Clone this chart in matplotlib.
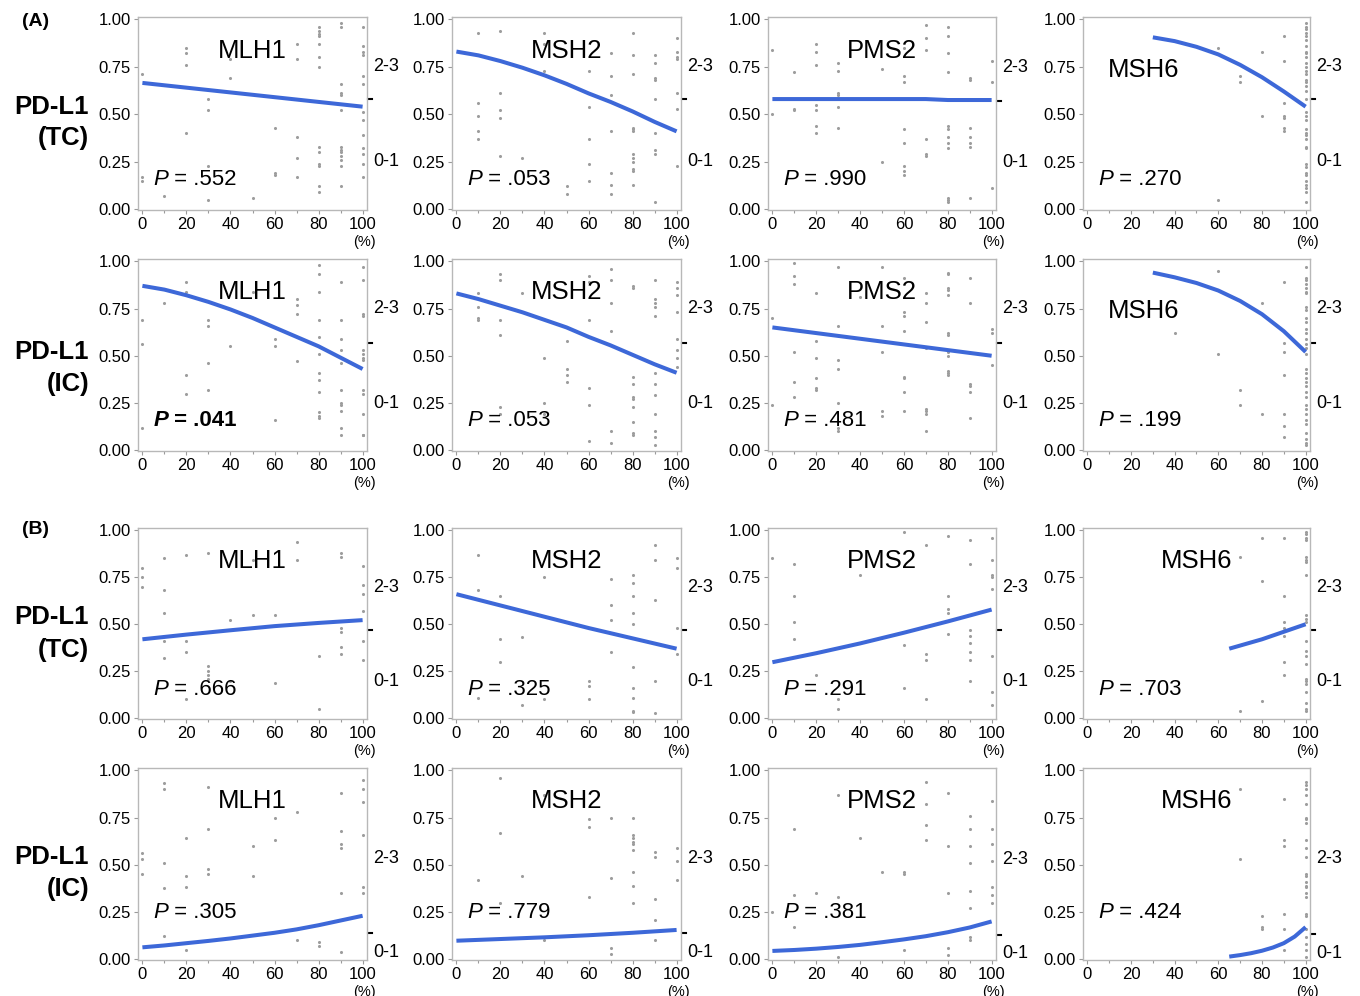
import matplotlib.pyplot as plt
import matplotlib.transforms as mtransforms

plt.rcParams['font.family'] = ['Liberation Sans', 'DejaVu Sans']

# ---- data: points grouped by x (% staining), y ----
# fits are (x, predicted probability)
A_TC_MLH1 = {0: [0.71, 0.17, 0.15], 10: [0.07], 20: [0.85, 0.82, 0.76, 0.40],
             30: [0.58, 0.52, 0.23, 0.05], 40: [0.79, 0.69], 50: [0.06],
             60: [0.43, 0.19, 0.18], 70: [0.87, 0.79, 0.38, 0.27, 0.17],
             80: [0.96, 0.94, 0.92, 0.91, 0.87, 0.80, 0.75, 0.33, 0.30, 0.24, 0.23, 0.12, 0.09],
             90: [0.98, 0.96, 0.66, 0.61, 0.60, 0.52, 0.33, 0.31, 0.30, 0.28, 0.26, 0.23, 0.12],
             100: [0.96, 0.86, 0.83, 0.81, 0.70, 0.66, 0.51, 0.47, 0.39, 0.32, 0.29, 0.24, 0.17]}
A_TC_MLH1_FIT = [(0, 0.665), (20, 0.64), (40, 0.615), (60, 0.59), (80, 0.565), (100, 0.54)]

A_TC_MSH2 = {10: [0.93, 0.56, 0.49, 0.41, 0.37], 20: [0.94, 0.61, 0.52, 0.48, 0.28],
             30: [0.27], 40: [0.93, 0.87, 0.73], 50: [0.12, 0.08],
             60: [0.73, 0.54, 0.37, 0.24, 0.15], 70: [0.82, 0.70, 0.60, 0.41, 0.19, 0.13, 0.08],
             80: [0.93, 0.81, 0.71, 0.43, 0.42, 0.41, 0.29, 0.27, 0.25, 0.21, 0.20, 0.13],
             90: [0.81, 0.77, 0.69, 0.68, 0.58, 0.40, 0.31, 0.29, 0.04],
             100: [0.90, 0.83, 0.80, 0.79, 0.61, 0.53, 0.23]}
A_TC_MSH2_FIT = [(0, 0.83), (10, 0.81), (20, 0.78), (30, 0.745), (40, 0.705), (50, 0.66),
                 (60, 0.61), (70, 0.565), (80, 0.515), (90, 0.46), (100, 0.41)]

A_TC_PMS2 = {0: [0.84, 0.50], 10: [0.72, 0.53, 0.52], 20: [0.87, 0.83, 0.76, 0.55, 0.52, 0.44, 0.40],
             30: [0.77, 0.73, 0.61, 0.60, 0.54, 0.43], 50: [0.74, 0.25],
             60: [0.85, 0.70, 0.67, 0.42, 0.35, 0.23, 0.20, 0.18],
             70: [0.97, 0.90, 0.84, 0.37, 0.29, 0.28],
             80: [0.96, 0.91, 0.82, 0.72, 0.44, 0.42, 0.38, 0.35, 0.32, 0.06, 0.05, 0.04],
             90: [0.69, 0.68, 0.43, 0.38, 0.35, 0.33, 0.06], 100: [0.78, 0.67, 0.11]}
A_TC_PMS2_FIT = [(0, 0.58), (70, 0.58), (80, 0.575), (100, 0.575)]

A_TC_MSH6 = {60: [0.85, 0.05], 70: [0.70, 0.67], 80: [0.83, 0.49],
             90: [0.91, 0.78, 0.56, 0.49, 0.48, 0.43, 0.41],
             100: [0.98, 0.96, 0.95, 0.93, 0.91, 0.89, 0.86, 0.83, 0.82, 0.80, 0.77, 0.75, 0.73,
                   0.71, 0.68, 0.67, 0.65, 0.62, 0.58, 0.51, 0.49, 0.47, 0.42, 0.40, 0.39, 0.37,
                   0.33, 0.32, 0.24, 0.22, 0.19, 0.18, 0.15, 0.13, 0.11, 0.09, 0.04]}
A_TC_MSH6_FIT = [(30, 0.905), (40, 0.885), (50, 0.855), (60, 0.815), (70, 0.76),
                 (80, 0.695), (90, 0.62), (100, 0.54)]

A_IC_MLH1 = {0: [0.69, 0.56, 0.12], 10: [0.78], 20: [0.89, 0.84, 0.40, 0.30],
             30: [0.69, 0.66, 0.46, 0.32], 40: [0.55], 50: [0.84], 60: [0.59, 0.55, 0.16],
             70: [0.80, 0.77, 0.72, 0.47],
             80: [0.98, 0.93, 0.84, 0.69, 0.60, 0.51, 0.41, 0.37, 0.31, 0.20, 0.18, 0.17],
             90: [0.89, 0.69, 0.59, 0.53, 0.46, 0.32, 0.25, 0.24, 0.21, 0.12, 0.08],
             100: [0.97, 0.90, 0.72, 0.71, 0.53, 0.51, 0.49, 0.48, 0.32, 0.30, 0.19, 0.08, 0.08]}
A_IC_MLH1_FIT = [(0, 0.87), (10, 0.85), (20, 0.82), (30, 0.785), (40, 0.745), (50, 0.70),
                 (60, 0.65), (70, 0.60), (80, 0.55), (90, 0.49), (100, 0.43)]

A_IC_MSH2 = {10: [0.83, 0.76, 0.70, 0.69], 20: [0.93, 0.90, 0.69, 0.61, 0.23, 0.19], 30: [0.83],
             40: [0.49, 0.25, 0.19], 50: [0.58, 0.43, 0.40, 0.36],
             60: [0.92, 0.89, 0.69, 0.33, 0.24, 0.05], 70: [0.96, 0.90, 0.78, 0.63, 0.10, 0.04],
             80: [0.87, 0.86, 0.39, 0.35, 0.28, 0.27, 0.23, 0.15, 0.09, 0.08],
             90: [0.90, 0.80, 0.78, 0.76, 0.71, 0.41, 0.35, 0.29, 0.19, 0.10, 0.07, 0.03],
             100: [0.89, 0.86, 0.82, 0.73, 0.59, 0.53, 0.49, 0.44]}
A_IC_MSH2_FIT = [(0, 0.83), (10, 0.80), (20, 0.765), (30, 0.73), (40, 0.69), (50, 0.65),
                 (60, 0.60), (70, 0.555), (80, 0.505), (90, 0.455), (100, 0.41)]

A_IC_PMS2 = {0: [0.70, 0.24], 10: [0.99, 0.92, 0.88, 0.52, 0.36, 0.28],
             20: [0.83, 0.58, 0.49, 0.38, 0.33, 0.32], 30: [0.97, 0.66, 0.48, 0.43, 0.25, 0.12, 0.10],
             40: [0.81], 50: [0.97, 0.66, 0.52, 0.21, 0.18],
             60: [0.91, 0.73, 0.71, 0.63, 0.39, 0.38, 0.31, 0.21],
             70: [0.83, 0.78, 0.68, 0.54, 0.22, 0.21, 0.19, 0.10],
             80: [0.94, 0.93, 0.86, 0.85, 0.82, 0.62, 0.61, 0.52, 0.50, 0.42, 0.41, 0.40],
             90: [0.91, 0.78, 0.35, 0.34, 0.31, 0.17], 100: [0.64, 0.62, 0.45]}
A_IC_PMS2_FIT = [(0, 0.65), (20, 0.62), (40, 0.59), (60, 0.56), (80, 0.53), (100, 0.50)]

A_IC_MSH6 = {40: [0.62], 60: [0.95, 0.51], 70: [0.32, 0.24], 80: [0.78, 0.19],
             90: [0.89, 0.57, 0.52, 0.40, 0.19, 0.13, 0.07],
             100: [0.97, 0.91, 0.90, 0.88, 0.86, 0.84, 0.83, 0.76, 0.74, 0.70, 0.68, 0.64, 0.62,
                   0.59, 0.56, 0.54, 0.51, 0.43, 0.41, 0.38, 0.36, 0.34, 0.31, 0.28, 0.24, 0.22,
                   0.19, 0.16, 0.14, 0.09, 0.06, 0.04, 0.03]}
A_IC_MSH6_FIT = [(30, 0.94), (40, 0.915), (50, 0.885), (60, 0.845), (70, 0.79),
                 (80, 0.72), (90, 0.63), (100, 0.52)]

B_TC_MLH1 = {0: [0.80, 0.75, 0.70], 10: [0.85, 0.68, 0.56, 0.41, 0.32], 20: [0.87, 0.41, 0.35, 0.10],
             30: [0.88, 0.28, 0.25, 0.23, 0.21], 40: [0.52, 0.20], 50: [0.84, 0.55],
             60: [0.55, 0.19], 70: [0.94, 0.84], 80: [0.33, 0.05],
             90: [0.88, 0.86, 0.48, 0.46, 0.38, 0.34], 100: [0.81, 0.71, 0.66, 0.57, 0.41, 0.31]}
B_TC_MLH1_FIT = [(0, 0.42), (20, 0.445), (40, 0.468), (60, 0.49), (80, 0.507), (100, 0.522)]

B_TC_MSH2 = {10: [0.87, 0.68, 0.11], 20: [0.65, 0.42, 0.30], 30: [0.43, 0.07], 40: [0.75, 0.10],
             60: [0.20, 0.17, 0.10], 70: [0.74, 0.60, 0.52, 0.35],
             80: [0.76, 0.72, 0.65, 0.56, 0.50, 0.27, 0.16, 0.11, 0.04, 0.035],
             90: [0.92, 0.84, 0.63, 0.20, 0.03], 100: [0.85, 0.80, 0.48, 0.34]}
B_TC_MSH2_FIT = [(0, 0.66), (20, 0.60), (40, 0.54), (60, 0.48), (80, 0.425), (100, 0.37)]

B_TC_PMS2 = {0: [0.85], 10: [0.82, 0.65, 0.51, 0.42], 20: [0.23], 30: [0.10, 0.05], 40: [0.76],
             60: [0.99, 0.39, 0.16], 70: [0.92, 0.34, 0.31, 0.10], 80: [0.97, 0.65, 0.58, 0.56, 0.45],
             90: [0.95, 0.82, 0.47, 0.44, 0.40, 0.35, 0.31, 0.20],
             100: [0.96, 0.84, 0.76, 0.75, 0.69, 0.33, 0.14, 0.07]}
B_TC_PMS2_FIT = [(0, 0.298), (20, 0.346), (40, 0.398), (60, 0.455), (80, 0.515), (100, 0.578)]

B_TC_MSH6 = {70: [0.86, 0.04], 80: [0.96, 0.73, 0.09], 90: [0.96, 0.65, 0.51, 0.48, 0.44, 0.30, 0.23],
             100: [0.99, 0.98, 0.96, 0.95, 0.86, 0.84, 0.83, 0.76, 0.55, 0.53, 0.51, 0.41, 0.36,
                   0.33, 0.29, 0.21, 0.20, 0.18, 0.14, 0.08, 0.05, 0.04]}
B_TC_MSH6_FIT = [(65, 0.37), (80, 0.42), (90, 0.46), (100, 0.50)]

B_IC_MLH1 = {0: [0.56, 0.53, 0.45], 10: [0.93, 0.90, 0.51, 0.375, 0.125], 20: [0.64, 0.44, 0.38, 0.05],
             30: [0.91, 0.69, 0.48, 0.45], 50: [0.60, 0.44], 60: [0.75, 0.63], 70: [0.78, 0.10],
             80: [0.09, 0.07], 90: [0.88, 0.68, 0.61, 0.59, 0.35, 0.04],
             100: [0.95, 0.90, 0.83, 0.66, 0.38, 0.35]}
B_IC_MLH1_FIT = [(0, 0.063), (10, 0.073), (20, 0.085), (30, 0.097), (40, 0.11), (50, 0.125),
                 (60, 0.14), (70, 0.158), (80, 0.18), (90, 0.205), (100, 0.23)]

B_IC_MSH2 = {10: [0.42], 20: [0.96, 0.67, 0.30], 30: [0.44, 0.29], 40: [0.87, 0.10],
             60: [0.74, 0.70, 0.33], 70: [0.75, 0.43, 0.06, 0.03],
             80: [0.75, 0.66, 0.64, 0.62, 0.61, 0.58, 0.46, 0.39, 0.30],
             90: [0.57, 0.54, 0.32, 0.21, 0.10], 100: [0.59, 0.52, 0.42]}
B_IC_MSH2_FIT = [(0, 0.098), (20, 0.107), (40, 0.116), (60, 0.127), (80, 0.14), (100, 0.155)]

B_IC_PMS2 = {0: [0.25], 10: [0.69, 0.34, 0.17], 20: [0.35], 30: [0.87, 0.33, 0.01], 40: [0.64],
             50: [0.46], 60: [0.46, 0.45, 0.05], 70: [0.94, 0.82, 0.71, 0.63],
             80: [0.88, 0.60, 0.35, 0.06, 0.02], 90: [0.76, 0.69, 0.60, 0.51, 0.36, 0.27, 0.12, 0.10],
             100: [0.84, 0.69, 0.61, 0.52, 0.38, 0.34, 0.30]}
B_IC_PMS2_FIT = [(0, 0.044), (10, 0.049), (20, 0.056), (30, 0.065), (40, 0.076), (50, 0.09),
                 (60, 0.105), (70, 0.122), (80, 0.143), (90, 0.168), (100, 0.20)]

B_IC_MSH6 = {70: [0.90, 0.53], 80: [0.23, 0.17, 0.16], 90: [0.85, 0.63, 0.60, 0.24, 0.16, 0.05],
             100: [0.94, 0.92, 0.90, 0.87, 0.82, 0.75, 0.74, 0.72, 0.63, 0.59, 0.54, 0.45, 0.44,
                   0.41, 0.39, 0.38, 0.35, 0.33, 0.24, 0.23, 0.16, 0.12, 0.08, 0.05, 0.01]}
B_IC_MSH6_FIT = [(65, 0.014), (70, 0.022), (75, 0.032), (80, 0.045), (85, 0.062),
                 (90, 0.085), (95, 0.12), (100, 0.17)]

GENES = ['MLH1', 'MSH2', 'PMS2', 'MSH6']
P_VALUES = [['.552', '.053', '.990', '.270'],
            ['.041', '.053', '.481', '.199'],
            ['.666', '.325', '.291', '.703'],
            ['.305', '.779', '.381', '.424']]
# share of PD-L1 0-1 (where the 2-3 / 0-1 split sits)
CUTS = [[0.58, 0.58, 0.57, 0.58],
        [0.57, 0.57, 0.57, 0.57],
        [0.47, 0.47, 0.47, 0.47],
        [0.14, 0.14, 0.13, 0.135]]
ROW_LABELS = ['(TC)', '(IC)', '(TC)', '(IC)']

PANELS = [[(A_TC_MLH1, A_TC_MLH1_FIT), (A_TC_MSH2, A_TC_MSH2_FIT), (A_TC_PMS2, A_TC_PMS2_FIT), (A_TC_MSH6, A_TC_MSH6_FIT)],
          [(A_IC_MLH1, A_IC_MLH1_FIT), (A_IC_MSH2, A_IC_MSH2_FIT), (A_IC_PMS2, A_IC_PMS2_FIT), (A_IC_MSH6, A_IC_MSH6_FIT)],
          [(B_TC_MLH1, B_TC_MLH1_FIT), (B_TC_MSH2, B_TC_MSH2_FIT), (B_TC_PMS2, B_TC_PMS2_FIT), (B_TC_MSH6, B_TC_MSH6_FIT)],
          [(B_IC_MLH1, B_IC_MLH1_FIT), (B_IC_MSH2, B_IC_MSH2_FIT), (B_IC_PMS2, B_IC_PMS2_FIT), (B_IC_MSH6, B_IC_MSH6_FIT)]]

# ---- layout (pixels of the 1360x996 canvas) ----
W, H = 1360, 996
col_px = [(138, 367), (452, 681), (768, 996), (1083, 1310)]
row_px = [(17, 210), (259, 451), (528, 719), (768, 960)]
label_px = [(107, 138), (352, 384), (617, 650), (857, 889)]

fig = plt.figure(figsize=(W / 100, H / 100), dpi=100)

for r in range(4):
    top, bot = row_px[r]
    for c in range(4):
        left, right = col_px[c]
        ax = fig.add_axes([left / W, 1 - bot / H, (right - left) / W, (bot - top) / H])
        pts, fit = PANELS[r][c]
        for xv, ys in pts.items():
            ax.scatter([xv] * len(ys), ys, s=5, color='#9d9d9d', linewidths=0, zorder=2)
        fx = [p[0] for p in fit]
        fy = [p[1] for p in fit]
        ax.plot(fx, fy, color='#3d68d8', lw=2.9, solid_capstyle='butt', zorder=3)

        ax.set_xlim(-2, 102)
        ax.set_ylim(-0.004, 1.012)
        ax.set_xticks(range(0, 101, 20))
        ax.set_xticks(range(10, 100, 20), minor=True)
        ax.set_yticks([0, 0.25, 0.5, 0.75, 1.0])
        ax.set_yticklabels(['0.00', '0.25', '0.50', '0.75', '1.00'])
        ax.tick_params(which='both', direction='out', color='#9a9a9a', width=0.8,
                       labelsize=12, length=3, pad=2)
        ax.tick_params(which='minor', length=2)
        for s in ax.spines.values():
            s.set_color('#b8b8b8')
            s.set_linewidth(1)

        tr = mtransforms.blended_transform_factory(ax.transAxes, ax.transData)
        tr_lab = mtransforms.offset_copy(tr, fig=fig, y=-5, units='points')
        cut = CUTS[r][c]
        ax.plot([1.004, 1.022], [cut, cut], transform=tr, clip_on=False, color='black', lw=1.5)
        ax.text(1.026, (1 + cut) / 2, '2-3', transform=tr_lab, ha='left', va='center', fontsize=13)
        ax.text(1.026, cut / 2, '0-1', transform=tr_lab, ha='left', va='center', fontsize=13)

        tr2 = mtransforms.blended_transform_factory(ax.transData, ax.transAxes)
        ax.text(101, -0.165, '(%)', transform=tr2, ha='center', va='center', fontsize=10.5)

        gene = GENES[c]
        if gene == 'MSH6' and r < 2:
            ax.text(26, 0.735, gene, ha='center', va='center', fontsize=18.5)
        else:
            ax.text(50, 0.835, gene, ha='center', va='center', fontsize=18.5)

        bold = (r == 1 and c == 0)
        py = 0.25 if r == 3 else 0.155
        t1 = ax.text(5, py, 'P', ha='left', va='center', fontsize=16, style='italic',
                     fontweight='bold' if bold else 'normal')
        ax.annotate(' = ' + P_VALUES[r][c], xy=(1, 0), xycoords=t1, ha='left', va='bottom',
                    fontsize=16, fontweight='bold' if bold else 'normal')

    y1, y2 = label_px[r]
    fig.text(89 / W, 1 - y1 / H, 'PD-L1', ha='right', va='center', fontsize=18.5, fontweight='bold')
    fig.text(89 / W, 1 - y2 / H, ROW_LABELS[r], ha='right', va='center', fontsize=18.5, fontweight='bold')

fig.text(22 / W, 1 - 21 / H, '(A)', ha='left', va='center', fontsize=14, fontweight='bold')
fig.text(22 / W, 1 - 529 / H, '(B)', ha='left', va='center', fontsize=14, fontweight='bold')

fig.savefig('out.png', dpi=100)
